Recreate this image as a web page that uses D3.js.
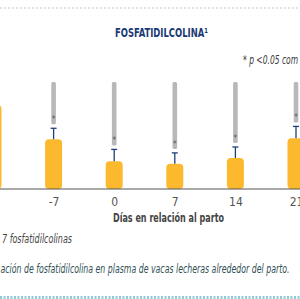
<!DOCTYPE html>
<html>
<head>
<meta charset="utf-8">
<script src="https://cdn.jsdelivr.net/npm/d3@7"></script>
<style>
  body { margin: 0; background: #fff; }
  text { font-family: "Liberation Sans Narrow", "DejaVu Sans Condensed", sans-serif; }
</style>
</head>
<body>
<div id="chart"></div>
<script>
// days relative to calving (first one is cut off on the left)
var days = [-14, -7, 0, 7, 14, 21]
var dayLabels = ["", "-7", "0", "7", "14", "21"]
// mean and error of the yellow series
var means = [157, 93, 52, 47, 58, 95]
var errs = [0, 20.5, 22, 20.5, 20.5, 22]
// gray series is cut off at the top of the panel
var grayTop = [200, 200, 200, 200, 200, 200]
var signif = [false, true, true, true, true, true]

var w = 300
var h = 299

var svg = d3.select('#chart').append('svg')
    .attr('width', w)
    .attr('height', h)

var x = d3.scalePoint().domain(days).range([-7, 296])
var y = d3.scaleLinear().domain([0, 200]).range([189, 82])

function capY(i){ return y(means[i] + errs[i]) }

// squeeze text into the width it has in the picture
function label(px, py, str, size, len, opts){
    var t = svg.append('text')
        .attr('x', px).attr('y', py)
        .attr('font-size', size)
        .attr('fill', opts.fill)
        .attr('textLength', len)
        .attr('lengthAdjust', 'spacingAndGlyphs')
        .text(str)
    if(opts.bold) t.attr('font-weight', 'bold')
    if(opts.italic) t.attr('font-style', 'italic')
    return t
}

// dotted rules top and bottom
svg.append('line')
    .attr('x1', 0).attr('x2', w).attr('y1', 8).attr('y2', 8)
    .attr('stroke', '#cfcfcf').attr('stroke-width', 1.5)
    .attr('stroke-dasharray', '1.5,2.5')
svg.append('line')
    .attr('x1', 0).attr('x2', w).attr('y1', 297.5).attr('y2', 297.5)
    .attr('stroke', '#8fcbd8').attr('stroke-width', 3)
    .attr('stroke-dasharray', '2,1.5')

label(115, 36.5, 'FOSFATIDILCOLINA¹', 12.5, 93, {fill: '#1b3a74', bold: true})
label(243, 64, '* p <0.05 com', 12, 55, {fill: '#3a3a3a', italic: true})

var g = svg.selectAll('g.day')
    .data(days)
    .enter()
    .append('g')
    .attr('class', 'day')

// gray bars of the other series
g.filter(function(d,i){ return errs[i] > 0 })
    .append('rect')
    .attr('x', function(d){ return x(d) - 2.3 })
    .attr('width', 4.6)
    .attr('y', function(d){ return y(grayTop[days.indexOf(d)]) })
    .attr('height', function(d){ var i = days.indexOf(d); return capY(i) - 4 - y(grayTop[i]) })
    .attr('rx', 1.5)
    .attr('fill', '#b8b8b8')

// yellow bars
g.append('rect')
    .attr('x', function(d){ return x(d) - 8.5 })
    .attr('width', 17)
    .attr('y', function(d,i){ return y(means[i]) })
    .attr('height', function(d,i){ return y(0) - y(means[i]) })
    .attr('rx', 4)
    .attr('fill', '#fdb92e')

// error bars
var eb = g.filter(function(d,i){ return errs[i] > 0 })
eb.append('line')
    .attr('x1', function(d){ return x(d) }).attr('x2', function(d){ return x(d) })
    .attr('y1', function(d){ return y(means[days.indexOf(d)]) })
    .attr('y2', function(d){ return capY(days.indexOf(d)) })
    .attr('stroke', '#1f3f78').attr('stroke-width', 1.3)
eb.append('line')
    .attr('x1', function(d){ return x(d) - 3 }).attr('x2', function(d){ return x(d) + 3 })
    .attr('y1', function(d){ return capY(days.indexOf(d)) })
    .attr('y2', function(d){ return capY(days.indexOf(d)) })
    .attr('stroke', '#1f3f78').attr('stroke-width', 1.3)

// significance stars on the gray bars
g.filter(function(d,i){ return signif[i] })
    .append('text')
    .attr('x', function(d){ return x(d) })
    .attr('y', function(d){ return capY(days.indexOf(d)) - 6 })
    .attr('text-anchor', 'middle')
    .attr('font-size', 8)
    .attr('fill', '#555')
    .text('*')

// x axis
var axis = svg.append('g')
    .attr('transform', 'translate(0,189)')
    .call(d3.axisBottom(x).tickSize(0).tickPadding(8)
        .tickFormat(function(d,i){ return dayLabels[i] }))
axis.select('.domain').remove()
axis.append('line')
    .attr('x1', 0).attr('x2', w)
    .attr('stroke', '#555').attr('stroke-width', 1.2)
axis.selectAll('text')
    .attr('font-size', 12)
    .attr('font-family', '"Liberation Sans Narrow", "DejaVu Sans Condensed", sans-serif')
    .attr('fill', '#555')

label(113, 221.5, 'Días en relación al parto', 13, 111, {fill: '#444', bold: true})
label(2, 242.5, '7 fosfatidilcolinas', 12.5, 70, {fill: '#444', italic: true})
label(0.5, 272.5, 'ación de fosfatidilcolina en plasma de vacas lecheras alrededor del parto.', 12.5, 289, {fill: '#2f4f55', italic: true})
</script>
</body>
</html>
